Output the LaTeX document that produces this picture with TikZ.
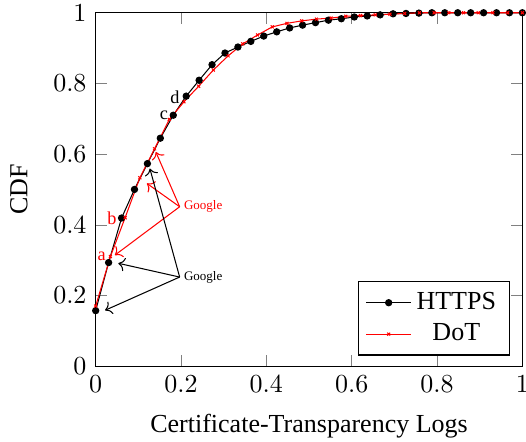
\documentclass[tikz,border=0pt]{standalone}
\usepackage{fontspec}
\setmainfont{Liberation Serif}
\usepackage{tikz}
\usetikzlibrary{arrows.meta,positioning}
\usepackage{pgfplots}
\pgfplotsset{compat=1.18}

\begin{document}
\begin{tikzpicture}[
  lbl/.style={font=\scriptsize, inner sep=0pt},
  gnote/.style={font=\tiny, inner sep=1.5pt},
  ptr/.style={->},
]
  \useasboundingbox (-36.8pt,-28.85pt) rectangle (165.5pt,140.8pt);
  \begin{axis}[
    at={(0,0)}, anchor=south west,
    x=164.1pt, y=135.9pt,
    xmin=0, xmax=1, ymin=0, ymax=1,
    xlabel={Certificate-Transparency Logs},
    ylabel={CDF},
    xlabel style={yshift=-1.5pt},
    ylabel style={yshift=3pt},
    legend pos=south east,
    legend cell align=center,
  ]
  % HTTPS
  \addplot[black, mark=*, mark size=1.2pt] table[x expr=\coordindex/33, y=cdf] {
    cdf
    0.157
    0.293
    0.419
    0.500
    0.573
    0.645
    0.710
    0.764
    0.809
    0.853
    0.886
    0.903
    0.919
    0.934
    0.946
    0.957
    0.965
    0.972
    0.979
    0.983
    0.988
    0.991
    0.994
    0.997
    0.998
    0.999
    1
    1
    1
    1
    1
    1
    1
    1
  };
  \addlegendentry{HTTPS}
  % DoT
  \addplot[red, mark=x, mark size=0.8pt] table[x expr=\coordindex/29, y=cdf] {
    cdf
    0.170
    0.310
    0.420
    0.533
    0.615
    0.698
    0.748
    0.792
    0.838
    0.878
    0.912
    0.937
    0.960
    0.970
    0.977
    0.982
    0.985
    0.990
    0.992
    0.994
    0.996
    0.998
    1
    1
    1
    1
    1
    1
    1
    1
  };
  \addlegendentry{DoT}
  % point labels
  \node[lbl, text=red] (la) at (axis cs:0.014,0.311) {a};
  \node[lbl, text=red] (lb) at (axis cs:0.038,0.418) {b};
  \node[lbl] (lc) at (axis cs:0.160,0.710) {c};
  \node[lbl] (ld) at (axis cs:0.186,0.761) {d};
  % Google notes
  \node[gnote, text=red] (gred) at (axis cs:0.252,0.451) {Google};
  \node[gnote] (gblack) at (axis cs:0.252,0.252) {Google};
  \coordinate (tr1) at (axis cs:0.141,0.606);
  \coordinate (tr2) at (axis cs:0.120,0.517);
  \coordinate (tr3) at (axis cs:0.045,0.314);
  \coordinate (tb1) at (axis cs:0.127,0.559);
  \coordinate (tb2) at (axis cs:0.053,0.291);
  \coordinate (tb3) at (axis cs:0.022,0.158);
  \draw[ptr, red] (gred.west) -- (tr1);
  \draw[ptr, red] (gred.west) -- (tr2);
  \draw[ptr, red] (gred.west) -- (tr3);
  \draw[ptr] (gblack.west) -- (tb1);
  \draw[ptr] (gblack.west) -- (tb2);
  \draw[ptr] (gblack.west) -- (tb3);
  \end{axis}
\end{tikzpicture}
\end{document}
